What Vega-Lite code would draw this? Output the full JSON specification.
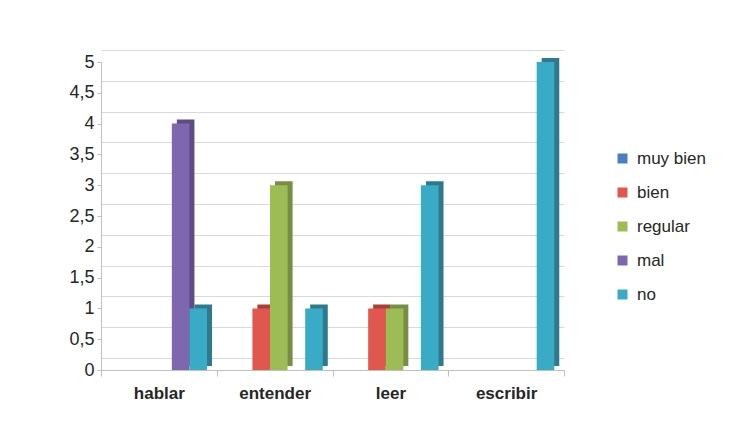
{
  "$schema": "https://vega.github.io/schema/vega-lite/v6.json",
  "width": 463,
  "height": 308,
  "autosize": {"type": "none"},
  "padding": {"left": 101, "top": 62, "right": 176, "bottom": 57},
  "background": "white",
  "config": {
    "view": {"stroke": null},
    "font": "Liberation Sans",
    "axis": {"labelFont": "Liberation Sans", "labelColor": "#262626", "domainColor": "#BFBFBF", "tickColor": "#BFBFBF", "gridColor": "#D9D9D9"},
    "legend": {"labelFont": "Liberation Sans", "labelColor": "#262626"}
  },
  "data": {
    "values": [
      {"verbo": "hablar", "nivel": "mal", "valor": 4},
      {"verbo": "hablar", "nivel": "no", "valor": 1},
      {"verbo": "entender", "nivel": "bien", "valor": 1},
      {"verbo": "entender", "nivel": "regular", "valor": 3},
      {"verbo": "entender", "nivel": "no", "valor": 1},
      {"verbo": "leer", "nivel": "bien", "valor": 1},
      {"verbo": "leer", "nivel": "regular", "valor": 1},
      {"verbo": "leer", "nivel": "no", "valor": 3},
      {"verbo": "escribir", "nivel": "no", "valor": 5}
    ]
  },
  "encoding": {
    "x": {
      "field": "verbo", "type": "nominal",
      "sort": ["hablar", "entender", "leer", "escribir"],
      "scale": {"paddingInner": 0, "paddingOuter": 0},
      "axis": {"title": null, "labelAngle": 0, "labelFontSize": 17, "labelFontWeight": "bold", "tickBand": "extent", "tickSize": 6, "labelPadding": 9, "grid": false}
    }
  },
  "layer": [
    {
      "mark": {"type": "bar", "opacity": 0},
      "encoding": {
        "y": {
          "field": "valor", "type": "quantitative",
          "scale": {"domain": [-0.195, 5], "range": [308, -12], "nice": false, "zero": false},
          "axis": {"title": null, "orient": "right", "values": [0, 0.5, 1, 1.5, 2, 2.5, 3, 3.5, 4, 4.5, 5], "labels": false, "ticks": false, "domain": false, "grid": true}
        }
      }
    },
    {
      "encoding": {
        "y": {
          "field": "valor", "type": "quantitative",
          "scale": {"domain": [0, 5], "nice": false},
          "axis": {"title": null, "orient": "left", "values": [0, 0.5, 1, 1.5, 2, 2.5, 3, 3.5, 4, 4.5, 5], "labelExpr": "replace(format(datum.value, '~g'), '.', ',')", "labelFontSize": 18, "tickSize": 4, "labelPadding": 3, "grid": false}
        }
      },
      "layer": [
        {
          "mark": {"type": "bar", "yOffset": -4},
          "encoding": {
            "xOffset": {
              "field": "nivel", "type": "nominal",
              "scale": {"domain": ["muy bien", "bien", "regular", "mal", "no"], "paddingInner": 0, "paddingOuter": 0.79, "align": 0.83}
            },
            "color": {
              "field": "nivel", "type": "nominal",
              "scale": {"domain": ["muy bien", "bien", "regular", "mal", "no"], "range": ["#3A5F8F", "#A84038", "#768F45", "#5E4D80", "#2E7A8C"]},
              "legend": null
            }
          }
        },
        {
          "mark": {"type": "bar"},
          "encoding": {
            "xOffset": {
              "field": "nivel", "type": "nominal",
              "scale": {"domain": ["muy bien", "bien", "regular", "mal", "no"], "paddingInner": 0, "paddingOuter": 0.79, "align": 0.65}
            },
            "color": {
              "field": "nivel", "type": "nominal",
              "scale": {"domain": ["muy bien", "bien", "regular", "mal", "no"], "range": ["#4A7EC2", "#E0574F", "#9DBC55", "#7E67AE", "#3AABC6"]},
              "legend": {"title": null, "orient": "none", "legendX": 513, "legendY": 88, "padding": 0, "symbolType": "square", "symbolSize": 100, "symbolStrokeWidth": 0, "labelFontSize": 17, "rowPadding": 16, "labelOffset": 6}
            }
          }
        }
      ],
      "resolve": {"scale": {"color": "independent", "xOffset": "independent"}}
    }
  ],
  "resolve": {"scale": {"y": "independent"}}
}
